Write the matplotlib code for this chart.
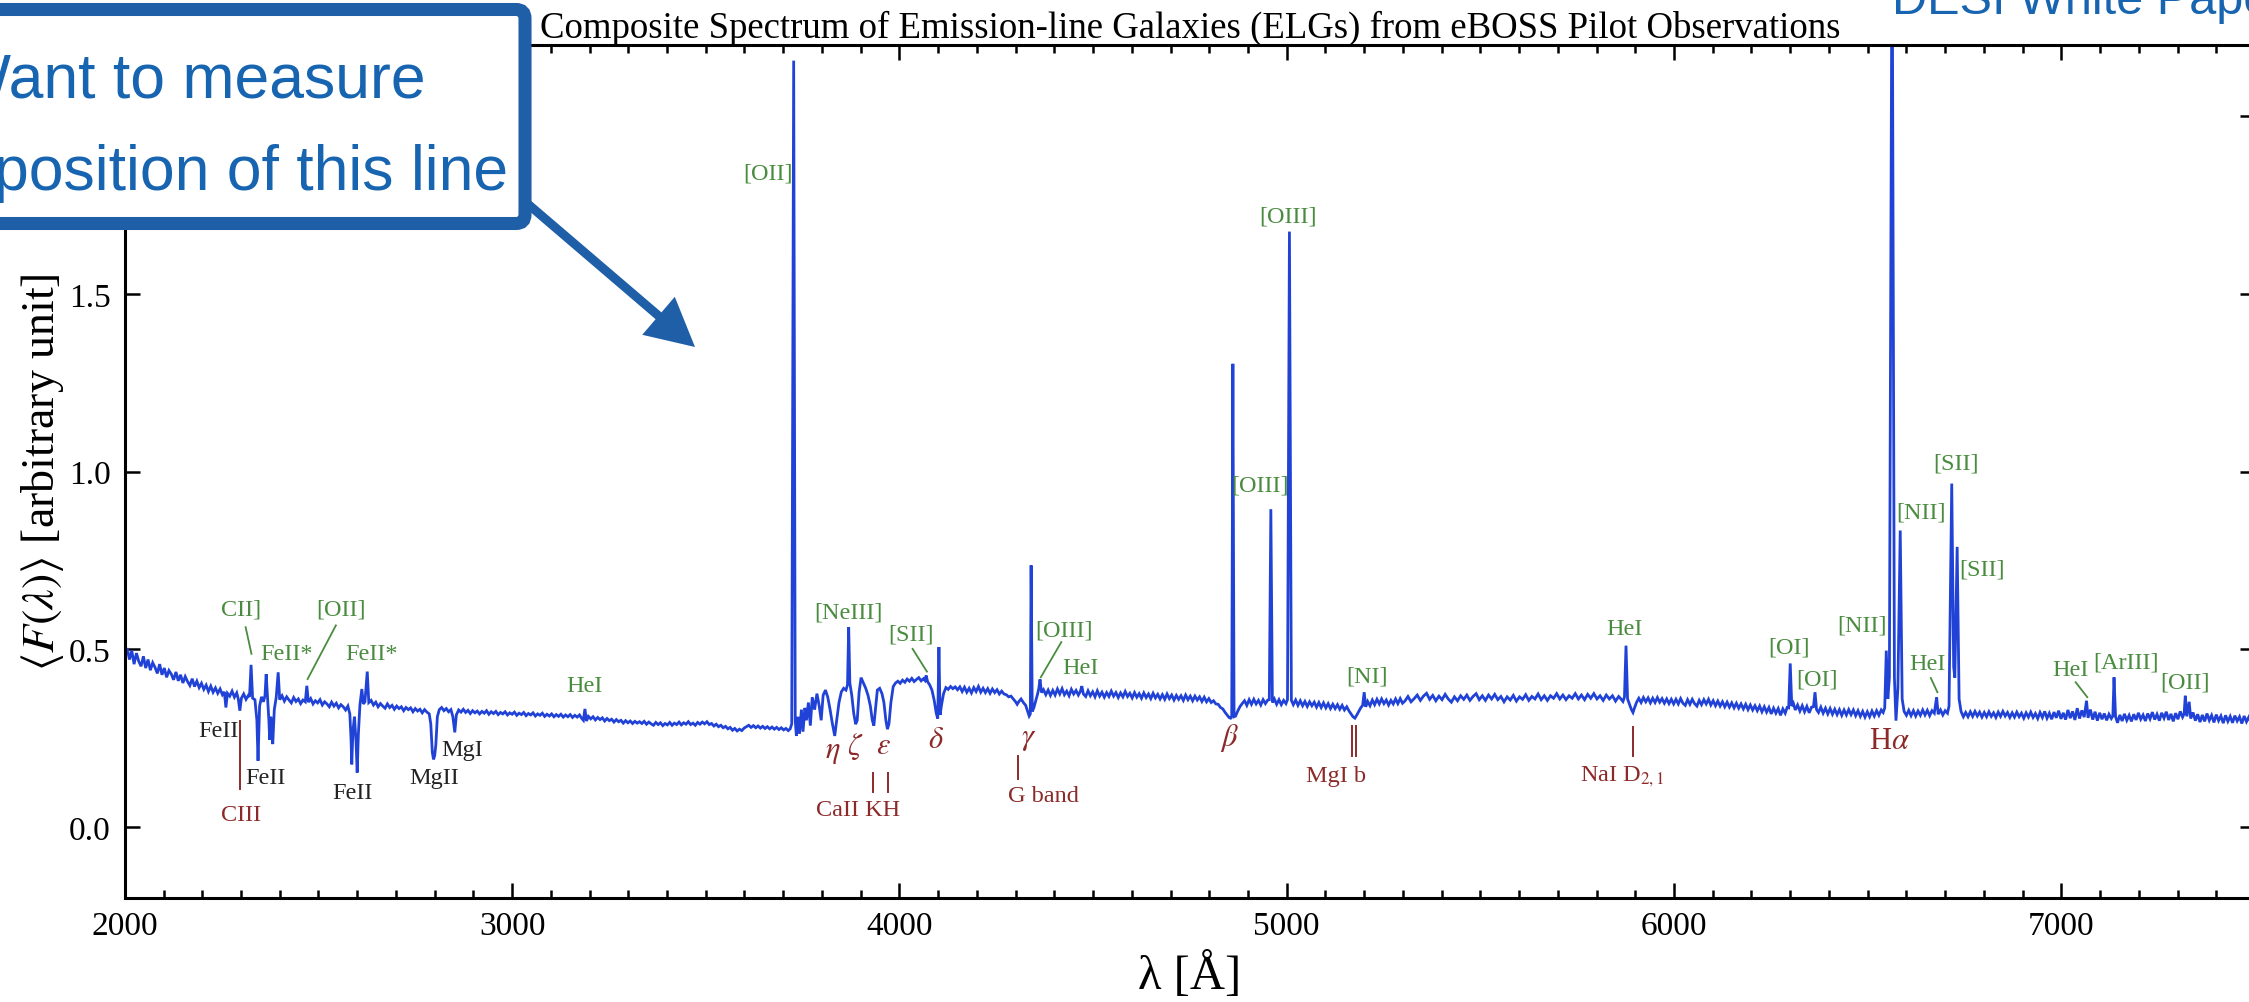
import numpy as np
import matplotlib
matplotlib.use('Agg')
import matplotlib.pyplot as plt
from matplotlib.patches import FancyBboxPatch, FancyArrow
from matplotlib.transforms import IdentityTransform
from matplotlib.ticker import MultipleLocator

plt.rcParams['font.family'] = ['Liberation Serif', 'DejaVu Serif']
plt.rcParams['mathtext.fontset'] = 'stix'

# ---------------- spectrum data (wavelength [A], flux) ----------------
uv_points = [
    (2000, 0.478), (2006, 0.503), (2012, 0.471), (2018, 0.496), (2024, 0.458), (2030, 0.489),
    (2036, 0.466), (2042, 0.452), (2048, 0.480), (2054, 0.447), (2060, 0.471), (2066, 0.441),
    (2072, 0.462), (2078, 0.449), (2084, 0.432), (2090, 0.458), (2096, 0.428), (2102, 0.447),
    (2108, 0.421), (2114, 0.440), (2120, 0.430), (2126, 0.414), (2132, 0.436), (2138, 0.411),
    (2144, 0.428), (2150, 0.405), (2156, 0.423), (2162, 0.409), (2168, 0.398), (2174, 0.417),
    (2180, 0.395), (2186, 0.410), (2192, 0.392), (2198, 0.404), (2204, 0.387), (2210, 0.399),
    (2216, 0.381), (2222, 0.396), (2228, 0.379), (2234, 0.391), (2240, 0.376), (2246, 0.388),
    (2252, 0.372), (2257, 0.380), (2261, 0.336), (2265, 0.376), (2271, 0.368), (2277, 0.382),
    (2283, 0.365), (2289, 0.377), (2293, 0.360), (2297, 0.327), (2301, 0.362), (2307, 0.374),
    (2313, 0.359), (2319, 0.370), (2322, 0.366), (2326, 0.456), (2330, 0.362),
]
nuv_points = [
    (2336, 0.358), (2341, 0.300), (2344, 0.186), (2348, 0.340), (2353, 0.366), (2358, 0.352),
    (2362, 0.370), (2365, 0.430), (2369, 0.356), (2372, 0.300), (2374, 0.245), (2377, 0.310),
    (2380, 0.260), (2382, 0.233), (2386, 0.330), (2391, 0.365), (2396, 0.435), (2400, 0.358),
    (2406, 0.369), (2412, 0.354), (2418, 0.366), (2424, 0.357), (2430, 0.349), (2436, 0.364),
    (2442, 0.353), (2448, 0.360), (2454, 0.347), (2460, 0.357), (2466, 0.352), (2470, 0.397),
    (2474, 0.351), (2480, 0.361), (2486, 0.346), (2492, 0.355), (2498, 0.349), (2504, 0.358),
    (2510, 0.343), (2516, 0.352), (2522, 0.346), (2528, 0.338), (2534, 0.351), (2540, 0.340),
    (2546, 0.348), (2552, 0.335), (2558, 0.344), (2564, 0.338), (2570, 0.329), (2576, 0.340),
    (2581, 0.318), (2584, 0.250), (2586, 0.176), (2589, 0.270), (2593, 0.310), (2597, 0.240),
    (2600, 0.153), (2603, 0.260), (2607, 0.342), (2612, 0.388), (2616, 0.346), (2620, 0.352),
    (2626, 0.437), (2630, 0.350), (2636, 0.356), (2642, 0.343), (2648, 0.351), (2654, 0.338),
    (2660, 0.347), (2666, 0.340), (2672, 0.334), (2678, 0.346), (2684, 0.336), (2690, 0.342),
    (2696, 0.331), (2702, 0.340), (2708, 0.333), (2714, 0.338), (2720, 0.327), (2726, 0.336),
    (2732, 0.330), (2738, 0.335), (2744, 0.324), (2750, 0.333), (2756, 0.326), (2762, 0.331),
    (2768, 0.321), (2774, 0.330), (2780, 0.323), (2786, 0.318), (2790, 0.290), (2794, 0.210),
    (2797, 0.190), (2800, 0.200), (2803, 0.230), (2807, 0.310), (2812, 0.330), (2818, 0.336),
    (2824, 0.327), (2830, 0.333), (2836, 0.324), (2842, 0.330), (2847, 0.310), (2852, 0.266),
    (2856, 0.315), (2862, 0.329), (2868, 0.323), (2874, 0.331), (2880, 0.322), (2886, 0.328),
    (2892, 0.319), (2898, 0.327), (2904, 0.321), (2910, 0.326), (2916, 0.318), (2922, 0.325),
    (2928, 0.320), (2934, 0.327), (2940, 0.317), (2946, 0.324), (2952, 0.319), (2958, 0.325),
    (2964, 0.316), (2970, 0.322), (2976, 0.318), (2982, 0.324), (2988, 0.315), (2994, 0.321),
    (3000, 0.317), (3006, 0.323), (3012, 0.314), (3018, 0.320), (3024, 0.316), (3030, 0.322),
    (3036, 0.313), (3042, 0.319), (3048, 0.315), (3054, 0.321), (3060, 0.312), (3066, 0.318),
    (3072, 0.314), (3078, 0.320), (3084, 0.311), (3090, 0.317), (3096, 0.312), (3102, 0.318),
    (3108, 0.310), (3114, 0.316), (3120, 0.311), (3126, 0.317), (3132, 0.309), (3138, 0.315),
    (3144, 0.310), (3150, 0.316), (3156, 0.308), (3162, 0.314), (3168, 0.309), (3174, 0.315),
    (3180, 0.305), (3184, 0.300), (3188, 0.332), (3192, 0.298), (3197, 0.311), (3203, 0.304),
    (3209, 0.310), (3215, 0.301), (3221, 0.308), (3227, 0.302), (3233, 0.307), (3239, 0.298),
    (3245, 0.305), (3251, 0.299), (3257, 0.303), (3263, 0.295), (3269, 0.302), (3275, 0.296),
    (3281, 0.300), (3287, 0.292), (3293, 0.299), (3299, 0.293), (3305, 0.298), (3311, 0.291),
    (3317, 0.297), (3323, 0.292), (3329, 0.296),
]
blue_points = [
    (3335, 0.291), (3341, 0.297), (3347, 0.289), (3353, 0.295), (3359, 0.290), (3365, 0.286),
    (3371, 0.294), (3377, 0.288), (3383, 0.293), (3389, 0.285), (3395, 0.291), (3401, 0.287),
    (3407, 0.294), (3413, 0.286), (3419, 0.292), (3425, 0.288), (3431, 0.295), (3437, 0.287),
    (3443, 0.293), (3449, 0.289), (3455, 0.296), (3461, 0.288), (3467, 0.292), (3473, 0.286),
    (3479, 0.294), (3485, 0.289), (3491, 0.295), (3497, 0.290), (3503, 0.296), (3509, 0.288),
    (3515, 0.291), (3521, 0.284), (3527, 0.289), (3533, 0.282), (3539, 0.286), (3545, 0.279),
    (3551, 0.283), (3557, 0.276), (3563, 0.280), (3569, 0.272), (3575, 0.277), (3581, 0.270),
    (3587, 0.275), (3593, 0.271), (3599, 0.278), (3605, 0.282), (3611, 0.286), (3617, 0.280),
    (3623, 0.285), (3629, 0.279), (3635, 0.284), (3641, 0.278), (3647, 0.283), (3653, 0.277),
    (3659, 0.282), (3665, 0.276), (3671, 0.281), (3677, 0.275), (3683, 0.280), (3689, 0.274),
    (3695, 0.279), (3701, 0.273), (3707, 0.277), (3713, 0.271), (3718, 0.276), (3722, 0.290),
    (3727, 2.156), (3731, 0.300),
]
balmer_points = [
    (3734, 0.256), (3738, 0.310), (3742, 0.262), (3747, 0.330), (3751, 0.268), (3756, 0.335),
    (3760, 0.300), (3765, 0.350), (3770, 0.285), (3775, 0.365), (3781, 0.330), (3787, 0.375),
    (3793, 0.340), (3798, 0.300), (3803, 0.370), (3809, 0.385), (3815, 0.365), (3821, 0.330),
    (3827, 0.290), (3833, 0.256), (3838, 0.300), (3844, 0.350), (3850, 0.380), (3856, 0.390),
    (3862, 0.385), (3866, 0.400), (3869, 0.562), (3872, 0.405), (3877, 0.370), (3882, 0.320),
    (3887, 0.289), (3891, 0.300), (3896, 0.380), (3901, 0.420), (3907, 0.405), (3913, 0.390),
    (3919, 0.370), (3925, 0.340), (3930, 0.300), (3934, 0.285), (3938, 0.330), (3943, 0.385),
    (3949, 0.390), (3955, 0.375), (3960, 0.350), (3965, 0.300), (3969, 0.275), (3973, 0.290),
    (3978, 0.350), (3984, 0.395), (3990, 0.405), (3996, 0.410), (4002, 0.404), (4008, 0.413),
    (4014, 0.407), (4020, 0.416), (4026, 0.410), (4032, 0.418), (4038, 0.409), (4044, 0.415),
    (4050, 0.420), (4056, 0.411), (4062, 0.417), (4066, 0.412), (4069, 0.426), (4073, 0.408),
    (4078, 0.400), (4084, 0.385), (4090, 0.355), (4095, 0.320), (4099, 0.305), (4102, 0.506),
    (4105, 0.315), (4109, 0.345), (4114, 0.375), (4120, 0.392), (4126, 0.387), (4132, 0.395),
    (4138, 0.389), (4144, 0.394), (4150, 0.386),
]
hgamma_hbeta_points = [
    (4156, 0.394), (4162, 0.381), (4168, 0.393), (4174, 0.379), (4180, 0.390), (4186, 0.377),
    (4192, 0.392), (4198, 0.381), (4204, 0.395), (4210, 0.379), (4216, 0.390), (4222, 0.378),
    (4228, 0.389), (4234, 0.376), (4240, 0.388), (4246, 0.378), (4252, 0.386), (4258, 0.374),
    (4264, 0.382), (4270, 0.374), (4276, 0.372), (4282, 0.366), (4288, 0.368), (4294, 0.360),
    (4300, 0.352), (4304, 0.345), (4308, 0.352), (4314, 0.360), (4320, 0.350), (4326, 0.342),
    (4331, 0.325), (4335, 0.312), (4338, 0.318), (4340, 0.736), (4343, 0.325), (4347, 0.335),
    (4352, 0.355), (4357, 0.375), (4360, 0.390), (4363, 0.415), (4367, 0.378), (4372, 0.386),
    (4378, 0.372), (4384, 0.385), (4390, 0.370), (4396, 0.384), (4402, 0.371), (4408, 0.388),
    (4414, 0.374), (4420, 0.389), (4426, 0.372), (4432, 0.382), (4438, 0.369), (4444, 0.387),
    (4450, 0.374), (4456, 0.384), (4462, 0.371), (4467, 0.381), (4471, 0.396), (4475, 0.374),
    (4481, 0.367), (4487, 0.383), (4493, 0.369), (4499, 0.380), (4505, 0.366), (4511, 0.383),
    (4517, 0.368), (4523, 0.379), (4529, 0.365), (4535, 0.378), (4541, 0.367), (4547, 0.382),
    (4553, 0.368), (4559, 0.378), (4565, 0.364), (4571, 0.377), (4577, 0.366), (4583, 0.381),
    (4589, 0.367), (4595, 0.376), (4601, 0.363), (4607, 0.378), (4613, 0.365), (4619, 0.375),
    (4625, 0.362), (4631, 0.377), (4637, 0.364), (4643, 0.374), (4649, 0.361), (4655, 0.376),
    (4661, 0.363), (4667, 0.373), (4673, 0.360), (4679, 0.372), (4685, 0.359), (4691, 0.374),
    (4697, 0.361), (4703, 0.371), (4709, 0.357), (4715, 0.370), (4721, 0.359), (4727, 0.369),
    (4733, 0.356), (4739, 0.371), (4745, 0.358), (4751, 0.368), (4757, 0.355), (4763, 0.368),
    (4769, 0.357), (4775, 0.366), (4781, 0.353), (4787, 0.365), (4793, 0.352), (4799, 0.361),
    (4805, 0.350), (4811, 0.355), (4817, 0.346), (4823, 0.345), (4829, 0.336), (4835, 0.332),
    (4841, 0.322), (4846, 0.315), (4851, 0.308), (4855, 0.306), (4858, 0.312), (4861, 1.303),
    (4864, 0.310), (4868, 0.312), (4873, 0.325), (4879, 0.338), (4885, 0.347),
]
oiii_points = [
    (4891, 0.355), (4897, 0.342), (4903, 0.358), (4909, 0.345), (4915, 0.359), (4921, 0.346),
    (4927, 0.356), (4933, 0.343), (4939, 0.358), (4945, 0.347), (4951, 0.357), (4955, 0.358),
    (4959, 0.894), (4963, 0.350), (4968, 0.360), (4974, 0.345), (4980, 0.358), (4986, 0.344),
    (4992, 0.356), (4998, 0.347), (5002, 0.358), (5007, 1.675), (5012, 0.356), (5017, 0.344),
    (5023, 0.357), (5029, 0.342), (5035, 0.355), (5041, 0.341), (5047, 0.353), (5053, 0.339),
    (5059, 0.352), (5065, 0.341), (5071, 0.351), (5077, 0.337), (5083, 0.350), (5089, 0.336),
    (5095, 0.349), (5101, 0.335), (5107, 0.347), (5113, 0.333), (5119, 0.345), (5125, 0.333),
    (5131, 0.344), (5137, 0.331), (5143, 0.342), (5149, 0.329), (5155, 0.338), (5161, 0.326),
    (5166, 0.318), (5171, 0.310), (5176, 0.306), (5181, 0.315), (5186, 0.325), (5191, 0.335),
    (5196, 0.342), (5200, 0.379), (5204, 0.338), (5209, 0.353), (5215, 0.341), (5221, 0.357),
    (5227, 0.344), (5233, 0.359), (5239, 0.346), (5245, 0.360), (5251, 0.347), (5257, 0.357),
    (5263, 0.343), (5269, 0.356), (5275, 0.346), (5281, 0.360), (5287, 0.347), (5293, 0.361),
    (5299, 0.348),
]
yellow_points = [
    (5305, 0.354), (5313, 0.367), (5321, 0.352), (5329, 0.361), (5337, 0.371), (5345, 0.356),
    (5353, 0.368), (5361, 0.376), (5369, 0.359), (5377, 0.370), (5385, 0.355), (5393, 0.368),
    (5401, 0.358), (5409, 0.373), (5417, 0.360), (5425, 0.351), (5433, 0.366), (5441, 0.355),
    (5449, 0.369), (5457, 0.359), (5465, 0.371), (5473, 0.356), (5481, 0.367), (5489, 0.375),
    (5497, 0.358), (5505, 0.369), (5513, 0.356), (5521, 0.371), (5529, 0.360), (5537, 0.373),
    (5545, 0.358), (5553, 0.367), (5561, 0.352), (5569, 0.366), (5577, 0.357), (5585, 0.370),
    (5593, 0.354), (5601, 0.366), (5609, 0.359), (5617, 0.372), (5625, 0.356), (5633, 0.367),
    (5641, 0.360), (5649, 0.374), (5657, 0.358), (5665, 0.369), (5673, 0.356), (5681, 0.369),
    (5689, 0.362), (5697, 0.375), (5705, 0.360), (5713, 0.371), (5721, 0.358), (5729, 0.369),
    (5737, 0.362), (5745, 0.375), (5753, 0.360), (5761, 0.371), (5769, 0.358), (5777, 0.373),
    (5785, 0.362), (5793, 0.375), (5801, 0.360), (5809, 0.369), (5817, 0.356), (5825, 0.371),
    (5833, 0.360), (5841, 0.369), (5849, 0.354), (5857, 0.367), (5863, 0.360), (5868, 0.353),
    (5872, 0.365), (5876, 0.510), (5880, 0.360), (5885, 0.345), (5890, 0.330), (5894, 0.322),
    (5898, 0.335), (5903, 0.350), (5909, 0.362), (5915, 0.350), (5921, 0.364), (5927, 0.352),
    (5933, 0.363), (5939, 0.349), (5945, 0.362), (5951, 0.350), (5957, 0.364), (5963, 0.351),
    (5969, 0.361), (5975, 0.348), (5981, 0.360), (5987, 0.347), (5993, 0.359), (5999, 0.346),
]
red_points = [
    (6005, 0.359), (6011, 0.346), (6017, 0.361), (6023, 0.348), (6029, 0.342), (6035, 0.358),
    (6041, 0.345), (6047, 0.359), (6053, 0.347), (6059, 0.340), (6065, 0.356), (6071, 0.344),
    (6077, 0.358), (6083, 0.346), (6089, 0.359), (6095, 0.343), (6101, 0.355), (6107, 0.341),
    (6113, 0.354), (6119, 0.340), (6125, 0.352), (6131, 0.338), (6137, 0.351), (6143, 0.337),
    (6149, 0.349), (6155, 0.335), (6161, 0.348), (6167, 0.334), (6173, 0.346), (6179, 0.332),
    (6185, 0.345), (6191, 0.330), (6197, 0.343), (6203, 0.329), (6209, 0.341), (6215, 0.327),
    (6221, 0.340), (6227, 0.324), (6233, 0.338), (6239, 0.323), (6245, 0.336), (6251, 0.318),
    (6257, 0.334), (6263, 0.320), (6269, 0.333), (6275, 0.314), (6281, 0.332), (6287, 0.320),
    (6292, 0.336), (6296, 0.335), (6300, 0.460), (6304, 0.340), (6308, 0.348), (6313, 0.329),
    (6319, 0.343), (6325, 0.326), (6331, 0.341), (6337, 0.324), (6343, 0.339), (6349, 0.321),
    (6355, 0.337), (6360, 0.338), (6364, 0.379), (6368, 0.330), (6373, 0.322), (6379, 0.337),
    (6385, 0.320), (6391, 0.334), (6397, 0.318), (6403, 0.333), (6409, 0.317), (6415, 0.331),
    (6421, 0.316), (6427, 0.330), (6433, 0.314), (6439, 0.329), (6445, 0.315), (6451, 0.330),
    (6457, 0.316), (6463, 0.329), (6469, 0.313), (6475, 0.327), (6481, 0.311), (6487, 0.325),
    (6493, 0.309), (6499, 0.324), (6505, 0.310), (6511, 0.326), (6517, 0.312), (6523, 0.327),
    (6529, 0.314), (6535, 0.329), (6540, 0.322), (6544, 0.335),
]
halpha_points = [
    (6548, 0.496), (6552, 0.360), (6556, 0.420), (6563, 2.600), (6569, 0.420), (6573, 0.299),
    (6578, 0.390), (6584, 0.834), (6589, 0.360), (6594, 0.325), (6600, 0.314), (6606, 0.328),
    (6612, 0.313), (6618, 0.327), (6624, 0.312), (6630, 0.326), (6636, 0.314), (6642, 0.329),
    (6648, 0.315), (6654, 0.328), (6660, 0.313), (6666, 0.327), (6672, 0.320), (6678, 0.365),
    (6682, 0.317), (6688, 0.329), (6694, 0.315), (6700, 0.327), (6706, 0.320), (6710, 0.340),
    (6717, 0.966), (6722, 0.450), (6725, 0.420), (6731, 0.788), (6736, 0.360), (6741, 0.325),
    (6747, 0.310), (6753, 0.322),
]
nir_points = [
    (6759, 0.310), (6765, 0.324), (6771, 0.311), (6777, 0.325), (6783, 0.312), (6789, 0.323),
    (6795, 0.309), (6801, 0.322), (6807, 0.310), (6813, 0.324), (6819, 0.311), (6825, 0.321),
    (6831, 0.308), (6837, 0.323), (6843, 0.311), (6849, 0.325), (6855, 0.312), (6861, 0.322),
    (6867, 0.308), (6873, 0.321), (6879, 0.309), (6885, 0.323), (6891, 0.310), (6897, 0.320),
    (6903, 0.306), (6909, 0.321), (6915, 0.309), (6921, 0.323), (6927, 0.308), (6933, 0.319),
    (6939, 0.305), (6945, 0.322), (6951, 0.308), (6957, 0.325), (6963, 0.306), (6969, 0.320),
    (6975, 0.303), (6981, 0.323), (6987, 0.307), (6993, 0.327), (6999, 0.304), (7005, 0.321),
    (7011, 0.302), (7017, 0.329), (7023, 0.306), (7029, 0.325), (7035, 0.301), (7041, 0.334),
    (7047, 0.305), (7053, 0.328), (7059, 0.309), (7065, 0.355), (7069, 0.307), (7075, 0.330),
    (7081, 0.302), (7087, 0.324), (7093, 0.299), (7099, 0.321), (7105, 0.303), (7111, 0.319),
    (7117, 0.300), (7123, 0.317), (7129, 0.305), (7133, 0.312), (7136, 0.421), (7140, 0.310),
    (7145, 0.293), (7151, 0.315), (7157, 0.298), (7163, 0.318), (7169, 0.300), (7175, 0.314),
    (7181, 0.297), (7187, 0.317), (7193, 0.301), (7199, 0.321), (7205, 0.303), (7211, 0.315),
    (7217, 0.298), (7223, 0.319), (7229, 0.304), (7235, 0.323), (7241, 0.302), (7247, 0.317),
    (7253, 0.299), (7259, 0.321), (7265, 0.306), (7271, 0.324), (7277, 0.301), (7283, 0.318),
    (7289, 0.297), (7295, 0.320), (7301, 0.303), (7307, 0.325), (7313, 0.309), (7317, 0.318),
    (7320, 0.369), (7324, 0.311), (7330, 0.352), (7334, 0.305), (7340, 0.322), (7346, 0.299),
    (7352, 0.317), (7358, 0.295), (7364, 0.315), (7370, 0.297), (7376, 0.319), (7382, 0.300),
    (7388, 0.314), (7394, 0.294), (7400, 0.316), (7406, 0.299), (7412, 0.312), (7418, 0.292),
    (7424, 0.314), (7430, 0.297), (7436, 0.311), (7442, 0.293), (7448, 0.313), (7454, 0.298),
    (7460, 0.310), (7466, 0.291), (7472, 0.312), (7478, 0.296), (7484, 0.309), (7490, 0.293),
    (7496, 0.308), (7502, 0.300),
]

# ---------------- line identifications ----------------
emission_labels = [
    ('CII]', 2301, 0.614), ('FeII*', 2417, 0.487), ('[OII]', 2559, 0.614), ('FeII*', 2636, 0.487),
    ('HeI', 3186, 0.397), ('[OII]', 3660, 1.84), ('[NeIII]', 3868, 0.604), ('[SII]', 4029, 0.543),
    ('[OIII]', 4425, 0.553), ('HeI', 4468, 0.449), ('[OIII]', 4932, 0.962), ('[OIII]', 5004, 1.72),
    ('[NI]', 5207, 0.426), ('HeI', 5872, 0.557), ('[OI]', 6297, 0.506), ('[OI]', 6370, 0.416),
    ('[NII]', 6486, 0.567), ('[NII]', 6637, 0.886), ('HeI', 6654, 0.459), ('[SII]', 6729, 1.023),
    ('[SII]', 6796, 0.727), ('HeI', 7024, 0.444), ('[ArIII]', 7166, 0.463), ('[OII]', 7320, 0.408),
]
ism_labels = [
    ('FeII', 2241, 0.271), ('FeII', 2364, 0.139), ('FeII', 2588, 0.097),
    ('MgII', 2799, 0.139), ('MgI', 2872, 0.219),
]
stellar_labels = [
    ('CIII', 2299, 0.035), ('CaII KH', 3893, 0.050), ('G band', 4372, 0.087),
    ('MgI b', 5128, 0.144), (r'NaI D$_{2,1}$', 5866, 0.144),
]
balmer_labels = [
    (r'$\eta$', 3827, 0.215), (r'$\zeta$', 3886, 0.228), (r'$\epsilon$', 3959, 0.228),
    (r'$\delta$', 4094, 0.247), (r'$\gamma$', 4335, 0.252), (r'$\beta$', 4852, 0.252),
    (r'H$\alpha$', 6557, 0.242),
]
emission_leaders = [
    (2312, 0.562, 2327, 0.487), (2545, 0.567, 2472, 0.416), (4034, 0.501, 4071, 0.437),
    (4418, 0.520, 4365, 0.421), (6663, 0.419, 6680, 0.379), (7037, 0.407, 7067, 0.365),
]
stellar_marks = [
    (2298, 0.106, 0.299), (3933, 0.097, 0.153), (3970, 0.097, 0.153), (4306, 0.134, 0.200),
    (5169, 0.200, 0.285), (5179, 0.200, 0.285), (5893, 0.200, 0.280),
]

x_ticks = [2000, 3000, 4000, 5000, 6000, 7000]
y_ticks = [0.0, 0.5, 1.0, 1.5, 2.0]
y_tick_labels = ['0.0', '0.5', '1.0', '1.5', '']   # the 2.0 label sits hidden under the callout

# ---------------- figure ----------------
W, H = 2249, 1003
fig = plt.figure(figsize=(W / 100, H / 100), dpi=100)
ax = fig.add_axes([124.8 / W, 1 - 899 / H, (2255 - 124.8) / W, (899 - 46) / H])

segments = [uv_points, nuv_points, blue_points, balmer_points, hgamma_hbeta_points,
            oiii_points, yellow_points, red_points, halpha_points, nir_points]
wave = np.array([p[0] for s in segments for p in s], dtype=float)
flux = np.array([p[1] for s in segments for p in s], dtype=float)

BLUE = '#2142d6'
GREEN = '#4a8c3f'
RED = '#8c2a2a'

ax.plot(wave, flux, color=BLUE, lw=2.0, zorder=2, solid_joinstyle='miter')

lab_fs = 17.5
for t, x, y in emission_labels:
    ax.text(x, y, t, color=GREEN, fontsize=lab_fs, ha='center', va='center', zorder=3)
for t, x, y in ism_labels:
    ax.text(x, y, t, color='#222222', fontsize=lab_fs, ha='center', va='center', zorder=3)
for t, x, y in stellar_labels:
    ax.text(x, y, t, color=RED, fontsize=lab_fs, ha='center', va='center', zorder=3)
for t, x, y in balmer_labels:
    ax.text(x, y, t, color=RED, fontsize=22, ha='center', va='center', zorder=3)
for x0, y0, x1, y1 in emission_leaders:
    ax.plot([x0, x1], [y0, y1], color=GREEN, lw=1.3, zorder=3)
for x, y0, y1 in stellar_marks:
    ax.plot([x, x], [y0, y1], color=RED, lw=1.4, zorder=3)

ax.set_xlim(2000, 7500)
ax.set_ylim(-0.2, 2.2)
ax.set_xticks(x_ticks)
ax.set_yticks(y_ticks)
ax.set_yticklabels(y_tick_labels)
ax.xaxis.set_minor_locator(MultipleLocator(100))
ax.tick_params(which='both', direction='in', top=True, right=True, width=1.8)
ax.tick_params(which='major', length=11, labelsize=24)
ax.tick_params(which='minor', length=5.5)
ax.tick_params(axis='x', which='major', pad=9)
ax.tick_params(axis='y', which='major', pad=10)
for sp in ax.spines.values():
    sp.set_linewidth(2.2)

ax.set_xlabel('λ [Å]', fontsize=35, labelpad=7)
ax.set_ylabel(r'$\langle F(\lambda)\rangle$ [arbitrary unit]', fontsize=33, labelpad=2)
ax.set_title('Composite Spectrum of Emission-line Galaxies (ELGs) from eBOSS Pilot Observations',
             fontsize=26.5, pad=5)

# ---------------- slide annotations (pixel coordinates) ----------------
BOX_BLUE = '#1f5fa8'
TXT_BLUE = '#1764b0'
idt = IdentityTransform()

arrow = FancyArrow(522, H - 200, 695 - 522, (H - 348) - (H - 200), width=9, head_width=50,
                   head_length=48, length_includes_head=True, transform=idt,
                   color=BOX_BLUE, lw=0, zorder=20)
fig.add_artist(arrow)

box = FancyBboxPatch((-40, H - 224.5), 565, 214, boxstyle='round,pad=0,rounding_size=9',
                     transform=idt, facecolor='white', edgecolor=BOX_BLUE, lw=9.4, zorder=21)
fig.add_artist(box)

sans = ['Liberation Sans', 'DejaVu Sans']
fig.text(426, H - 98, 'Want to measure', transform=idt, ha='right', va='baseline',
         fontsize=45, color=TXT_BLUE, family=sans, zorder=22)
fig.text(508, H - 190, 'position of this line', transform=idt, ha='right', va='baseline',
         fontsize=45, color=TXT_BLUE, family=sans, zorder=22)
fig.text(1892, H - 14, 'DESI White Paper', transform=idt, ha='left', va='baseline',
         fontsize=35, color=TXT_BLUE, family=sans, zorder=22)

fig.savefig('out.png', dpi=100)
